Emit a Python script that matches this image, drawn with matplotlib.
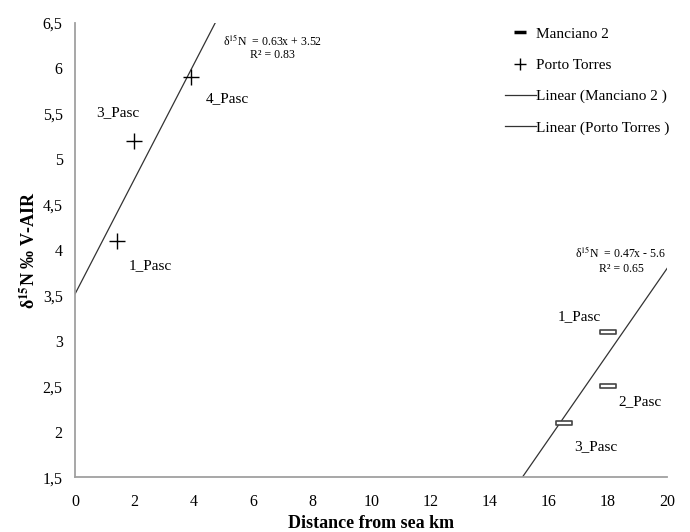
import numpy as np
import matplotlib
matplotlib.use("Agg")
from matplotlib import pyplot as plt
from matplotlib.path import Path
from matplotlib.lines import Line2D

plt.rcParams['font.family'] = ['Liberation Serif', 'DejaVu Serif']
plt.rcParams['mathtext.fontset'] = 'stix'

# data
porto_x = [1.4, 2.0, 3.9]
porto_y = [4.1, 5.2, 5.9]
porto_labels = ["1_Pasc", "3_Pasc", "4_Pasc"]

manciano_x = [18.0, 18.0, 16.5]
manciano_y = [3.1, 2.5, 2.1]
manciano_labels = ["1_Pasc", "2_Pasc", "3_Pasc"]

porto_fit = (0.63, 3.52)
manciano_fit = (0.47, -5.6)

x_ticks = [0, 2, 4, 6, 8, 10, 12, 14, 16, 18, 20]
y_ticks = [1.5, 2, 2.5, 3, 3.5, 4, 4.5, 5, 5.5, 6, 6.5]

box = Path([(-1, -0.22), (1, -0.22), (1, 0.22), (-1, 0.22), (-1, -0.22)],
           [Path.MOVETO, Path.LINETO, Path.LINETO, Path.LINETO, Path.CLOSEPOLY])

fig = plt.figure(figsize=(6.9, 5.32), dpi=100)
ax = fig.add_axes([0.109, 0.103, 0.858, 0.854])

xs = np.linspace(0, 20, 400)
ax.plot(xs, manciano_fit[0] * xs + manciano_fit[1], color="#333333", lw=0.9)
ax.plot(xs, porto_fit[0] * xs + porto_fit[1], color="#333333", lw=0.9)

ax.plot(manciano_x, manciano_y, linestyle="none", marker=box, markersize=11,
        markerfacecolor="white", markeredgecolor="#444444", markeredgewidth=1.2)
ax.plot(porto_x, porto_y, linestyle="none", marker="+", markersize=11,
        color="black", markeredgewidth=1.0)

# point labels
porto_pos = [(1.8, 3.83), (0.7, 5.51), (4.4, 5.67)]
for lab, (tx, ty) in zip(porto_labels, porto_pos):
    ax.text(tx, ty, lab, fontsize=11, va="center")
manciano_pos = [(16.3, 3.27), (18.35, 2.33), (16.85, 1.84)]
for lab, (tx, ty) in zip(manciano_labels, manciano_pos):
    ax.text(tx, ty, lab, fontsize=11, va="center")

ax.text(5.0, 6.31, r"δ$^{15}$N  = 0.63x + 3.52", fontsize=8.5, va="center")
ax.text(6.65, 6.15, "R² = 0.83", fontsize=8.5, va="center", ha="center")
ax.text(16.9, 3.97, r"δ$^{15}$N  = 0.47x - 5.6", fontsize=8.5, va="center")
ax.text(18.45, 3.79, "R² = 0.65", fontsize=8.5, va="center", ha="center")

ax.set_xlim(0, 20)
ax.set_ylim(1.5, 6.5)
ax.set_xticks(x_ticks)
ax.set_yticks(y_ticks)
ax.set_yticklabels([str(v).replace(".", ",") if v != int(v) else str(int(v)) for v in y_ticks])
ax.tick_params(axis="y", length=0, labelsize=11.5, pad=9)
ax.tick_params(axis="x", length=0, labelsize=11.5, pad=12)
for s in ["top", "right"]:
    ax.spines[s].set_visible(False)
for s in ["left", "bottom"]:
    ax.spines[s].set_color("#a0a0a0")
    ax.spines[s].set_linewidth(1.3)

ax.set_xlabel("Distance from sea km", fontsize=13, fontweight="bold", labelpad=4)
ax.set_ylabel(r"δ$^{\mathbf{15}}$N ‰ V-AIR", fontsize=13, fontweight="bold")
ax.yaxis.set_label_coords(-0.062, 0.5)

handles = [
    Line2D([], [], linestyle="none", marker="_", markersize=9, markeredgewidth=2.5, color="black"),
    Line2D([], [], linestyle="none", marker="+", markersize=9, color="black"),
    Line2D([], [], color="#333333", lw=0.9),
    Line2D([], [], color="#333333", lw=0.9),
]
labels = ["Manciano 2", "Porto Torres", "Linear (Manciano 2 )", "Linear (Porto Torres )"]
fig.legend(handles, labels, loc="upper left", bbox_to_anchor=(0.712, 0.975),
           frameon=False, fontsize=11, handlelength=2.0, handletextpad=0.05,
           labelspacing=1.15)

fig.savefig("out.png", dpi=100)
